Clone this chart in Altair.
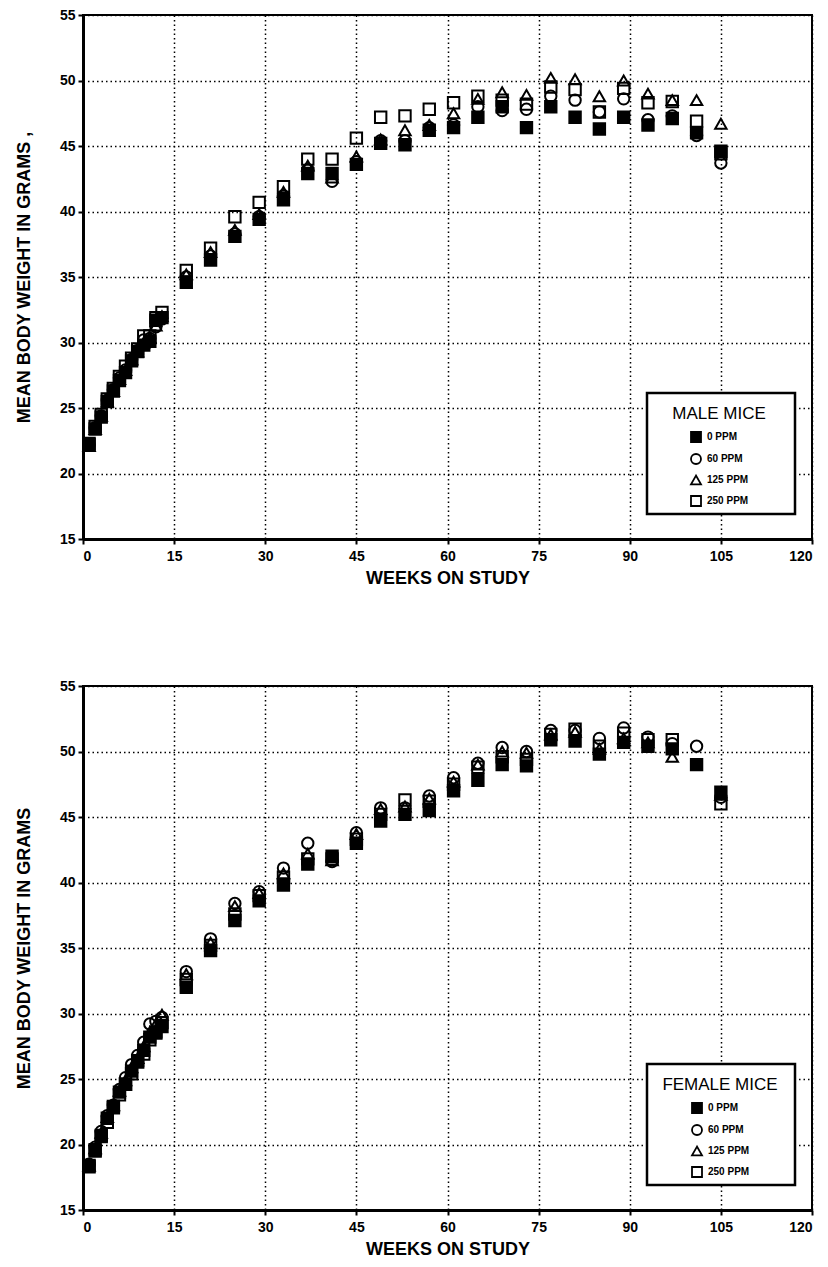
import altair as alt
import pandas as pd

# ---------------- data ----------------
weeks = [1, 2, 3, 4, 5, 6, 7, 8, 9, 10, 11, 12, 13,
         17, 21, 25, 29, 33, 37, 41, 45, 49, 53, 57, 61, 65, 69, 73, 77, 81, 85, 89, 93, 97, 101, 105]
doses = ["0 PPM", "60 PPM", "125 PPM", "250 PPM"]

male_0 = [22.2, 23.4, 24.3, 25.5, 26.3, 27.1, 27.7, 28.6, 29.3, 29.8, 30.1, 31.7, 31.9,
          34.6, 36.3, 38.1, 39.4, 40.9, 42.9, 42.9, 43.6, 45.2, 45.1, 46.2, 46.4, 47.2, 48.0,
          46.4, 48.0, 47.2, 46.3, 47.2, 46.6, 47.1, 46.0, 44.6]
male_60 = [22.2, 23.5, 24.4, 25.6, 26.4, 27.3, 27.9, 28.7, 29.4, 30.2, 30.3, 31.2, 31.8,
           35.0, 36.6, 38.3, 39.6, 41.2, 43.2, 42.3, 43.8, 45.4, 45.4, 46.4, 46.6, 48.0, 47.7,
           47.8, 48.8, 48.5, 47.6, 48.6, 47.0, 47.3, 45.8, 43.7]
male_125 = [22.1, 23.4, 24.4, 25.5, 26.3, 27.2, 27.9, 28.7, 29.3, 30.0, 30.4, 31.3, 32.0,
            35.2, 36.9, 38.6, 39.8, 41.5, 43.5, 42.6, 44.2, 45.5, 46.2, 46.6, 47.5, 48.6, 49.1,
            48.9, 50.2, 50.1, 48.8, 50.0, 49.0, 48.5, 48.5, 46.7]
male_250 = [22.3, 23.6, 24.5, 25.7, 26.5, 27.4, 28.2, 28.8, 29.5, 30.5, 30.5, 31.9, 32.3,
            35.5, 37.2, 39.6, 40.7, 41.9, 44.0, 44.0, 45.6, 47.2, 47.3, 47.8, 48.3, 48.8, 48.5,
            48.2, 49.5, 49.3, 47.6, 49.4, 48.3, 48.4, 46.9, 44.4]

female_0 = [18.4, 19.6, 20.7, 22.0, 22.9, 24.0, 24.6, 25.6, 26.4, 27.2, 28.2, 28.6, 29.0,
            32.0, 34.8, 37.1, 38.6, 39.8, 41.4, 42.0, 43.0, 44.7, 45.2, 45.5, 47.0, 47.8, 49.0,
            48.9, 50.9, 50.8, 49.8, 50.7, 50.4, 50.2, 49.0, 46.9]
female_60 = [18.5, 19.8, 21.0, 22.2, 23.0, 24.2, 25.1, 26.1, 26.8, 27.8, 29.2, 29.4, 29.7,
             33.2, 35.7, 38.4, 39.3, 41.1, 43.0, 41.6, 43.8, 45.7, 45.7, 46.6, 48.0, 49.1, 50.3,
             50.0, 51.6, 51.6, 51.0, 51.8, 51.1, 50.6, 50.4, 46.5]
female_125 = [18.4, 19.7, 20.9, 22.1, 23.0, 24.1, 24.9, 25.9, 26.6, 27.5, 28.6, 29.2, 29.9,
              33.0, 35.4, 38.2, 39.2, 40.7, 42.2, 41.7, 43.7, 45.6, 45.8, 46.4, 47.7, 49.0, 50.0,
              49.9, 51.3, 51.5, 50.2, 51.0, 50.7, 49.6, None, 46.7]
female_250 = [18.3, 19.5, 20.6, 21.7, 22.8, 23.8, 24.6, 25.4, 26.3, 26.9, 28.0, 28.5, 29.3,
              32.6, 35.2, 37.6, 39.0, 40.4, 41.8, 41.8, 43.3, 45.2, 46.3, 46.2, 47.5, 48.8, 49.6,
              49.4, 51.3, 51.7, 50.4, 51.4, 50.9, 50.9, None, 46.0]

x_ticks = [0, 15, 30, 45, 60, 75, 90, 105, 120]
y_ticks = [15, 20, 25, 30, 35, 40, 45, 50, 55]
shapes = ["square", "circle", "triangle-up", "square"]
fills = ["black", "transparent", "transparent", "transparent"]
strokes = ["black", "black", "black", "black"]

FONT = "Liberation Sans"


def frame(series):
    rows = []
    for dose, vals in zip(doses, series):
        for w, v in zip(weeks, vals):
            if v is not None:
                rows.append({"week": w, "weight": v, "dose": dose})
    return pd.DataFrame(rows)


def panel(df, ytitle, legend_title, legend_x):
    leg = alt.Legend(
        title=legend_title, orient="none", legendX=legend_x, legendY=391,
        titleFont=FONT, titleFontSize=17, titleFontWeight="normal", titleColor="black",
        titleAnchor="middle", titlePadding=8, titleLimit=300,
        labelFont=FONT, labelFontSize=10, labelFontWeight="bold", labelColor="black",
        labelOffset=5, symbolSize=100, symbolStrokeWidth=1.8,
        symbolOpacity=1, rowPadding=4, padding=0,
    )
    points = alt.Chart(df).mark_point(
        size=130, strokeWidth=2, opacity=1
    ).encode(
        x=alt.X("week:Q", scale=alt.Scale(domain=[0, 120], nice=False),
                axis=alt.Axis(values=x_ticks, title="WEEKS ON STUDY")),
        y=alt.Y("weight:Q", scale=alt.Scale(domain=[15, 55], nice=False, zero=False),
                axis=alt.Axis(values=y_ticks, title=ytitle)),
        shape=alt.Shape("dose:N", scale=alt.Scale(domain=doses, range=shapes), legend=leg),
        fill=alt.Fill("dose:N", scale=alt.Scale(domain=doses, range=fills), legend=leg),
        stroke=alt.Stroke("dose:N", scale=alt.Scale(domain=doses, range=strokes), legend=leg),
    )
    box = alt.Chart(pd.DataFrame({"k": [0]})).mark_rect(
        fill="white", stroke="black", strokeWidth=2.5
    ).encode(x=alt.value(564), x2=alt.value(712), y=alt.value(378), y2=alt.value(499))
    return alt.layer(box, points).properties(width=729, height=524)


top = panel(frame([male_0, male_60, male_125, male_250]),
            "MEAN BODY WEIGHT IN GRAMS ,", "MALE MICE", 589)
bottom = panel(frame([female_0, female_60, female_125, female_250]),
               "MEAN BODY WEIGHT IN GRAMS", "FEMALE MICE", 579)

chart = alt.vconcat(top, bottom, spacing=147, bounds="flush").resolve_scale(
    shape="independent", fill="independent", stroke="independent"
).resolve_legend(
    shape="independent", fill="independent", stroke="independent"
).properties(
    padding={"left": 14, "top": 7, "right": 1, "bottom": 2}
).configure_view(
    stroke="black", strokeWidth=2
).configure_axis(
    domainColor="black", domainWidth=3,
    tickColor="black", tickWidth=2, tickSize=5,
    labelFont=FONT, labelFontSize=14, labelFontWeight="bold", labelColor="black",
    titleFont=FONT, titleFontSize=18, titleFontWeight="bold", titleColor="black",
    grid=True, gridColor="black", gridDash=[1.5, 3], gridWidth=1.5, gridOpacity=1,
).configure_axisX(
    labelPadding=5, titlePadding=6,
).configure_axisY(
    labelPadding=3, titlePadding=26,
)

chart.save("out.html", embed_options={"renderer": "svg", "actions": False})
